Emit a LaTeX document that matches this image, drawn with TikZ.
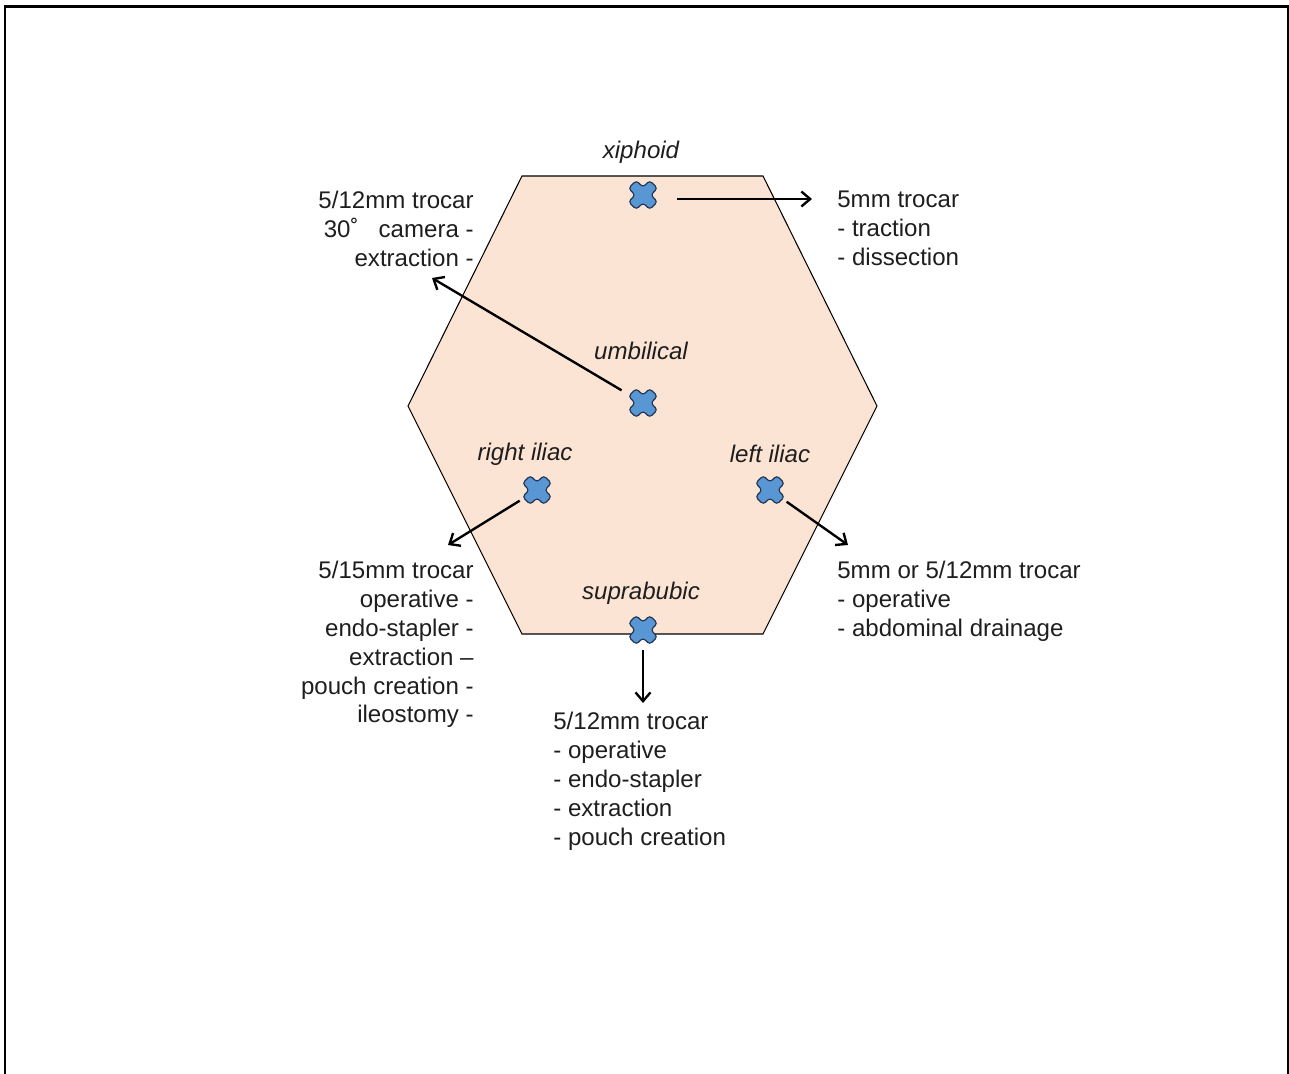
\documentclass[tikz,border=0pt]{standalone}
\usepackage{fontspec}
\setmainfont{Liberation Sans}
\usetikzlibrary{arrows.meta}
\definecolor{skin}{RGB}{252,228,212}
\definecolor{portblue}{RGB}{88,150,212}
\definecolor{portedge}{RGB}{35,55,85}
\definecolor{ink}{RGB}{30,30,30}

\begin{document}
\begin{tikzpicture}[x=0.02cm, y=-0.02cm,
  site/.style={font=\fontsize{13.7}{16.4}\selectfont\itshape, text=ink},
  note/.style={font=\fontsize{13.7}{16.4}\selectfont, text=ink, inner sep=0pt},
  port/.style={circle, minimum size=0.8cm, inner sep=0pt},
  lead/.style={line width=1.35pt, -{Straight Barb[length=5pt,width=8.5pt,line width=1.35pt]}},
  pics/cross/.style={code={
    \draw[fill=portblue, draw=portedge, line width=0.65pt, rounded corners=1.8pt, rotate=45]
      (-5.5,-15) -- (5.5,-15) -- (5.5,-5.5) -- (15,-5.5) -- (15,5.5) -- (5.5,5.5) -- (5.5,15)
      -- (-5.5,15) -- (-5.5,5.5) -- (-15,5.5) -- (-15,-5.5) -- (-5.5,-5.5) -- cycle;
  }}
]
  \useasboundingbox (0,0) rectangle (1289,1073);

  % frame
  \draw[line width=1.2pt] (5,1090) -- (5,6.5) -- (1287.8,6.5) -- (1287.8,1090);

  % abdomen
  \draw[fill=skin, line width=0.6pt]
    (522,176) -- (763,176) -- (877,406) -- (763,634) -- (522,634) -- (408,406) -- cycle;

  % ports
  \foreach \name/\px/\py in {xiph/643/195, umb/643/403, riliac/537/490,
                             liliac/770/490, supra/643/630}{
    \node[port] (\name) at (\px,\py) {};
    \pic at (\name) {cross};
  }

  % sites
  \node[site] (xiph-lbl)   at (641,152) {xiphoid};
  \node[site] (umb-lbl)    at (641,351) {umbilical};
  \node[site] (riliac-lbl) at (525,454) {right iliac};
  \node[site] (liliac-lbl) at (770,454) {left iliac};
  \node[site] (supra-lbl)  at (641,593) {suprabubic};

  % trocar notes
  \node[note, anchor=north east, align=right] (umb-note) at (474,191)
    {5/12mm trocar\\30˚\ \ \ camera -\\extraction -};
  \node[note, anchor=north west, align=left] (xiph-note) at (837,191)
    {5mm trocar\\- traction\\- dissection};
  \node[note, anchor=north east, align=right] (riliac-note) at (474,561)
    {5/15mm trocar\\operative -\\endo-stapler -\\extraction –\\pouch creation -\\ileostomy -};
  \node[note, anchor=north west, align=left] (liliac-note) at (837,561)
    {5mm or 5/12mm trocar\\- operative\\- abdominal drainage};
  \node[note, anchor=north west, align=left] (supra-note) at (553,712)
    {5/12mm trocar\\- operative\\- endo-stapler\\- extraction\\- pouch creation};

  % leads
  \coordinate (xiph-to)   at (812,199);
  \coordinate (umb-to)    at (432,278);
  \coordinate (riliac-to) at (448,545);
  \coordinate (liliac-to) at (848,545);
  \coordinate (supra-to)  at (643,703);

  \draw[lead, shorten <=8pt] (xiph.east |- xiph-to) -- (xiph-to);
  \draw[lead, shorten <=2.6pt] (umb) -- (umb-to);
  \draw[lead] (riliac) -- (riliac-to);
  \draw[lead] (liliac) -- (liliac-to);
  \draw[lead] (supra) -- (supra-to);
\end{tikzpicture}
\end{document}
